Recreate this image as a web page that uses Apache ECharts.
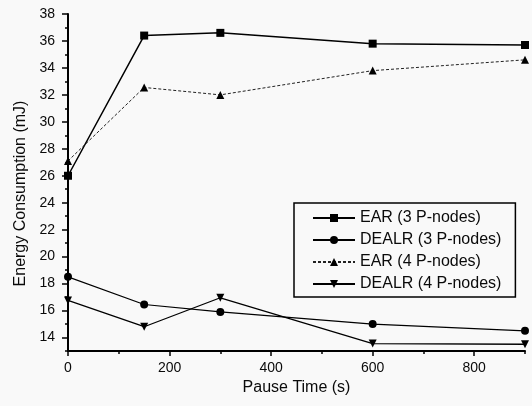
<!DOCTYPE html>
<html>
<head>
<meta charset="utf-8">
<script src="https://cdn.jsdelivr.net/npm/echarts@6/dist/echarts.min.js"></script>
<style>
html,body{margin:0;padding:0;background:#f9f9f9;}
#chart{width:532px;height:406px;}
</style>
</head>
<body>
<div id="chart"></div>
<script>
var pauseTimes = [0, 150, 300, 600, 900];
var ear3 = [26.0, 36.4, 36.6, 35.8, 35.7];
var dealr3 = [18.5, 16.45, 15.9, 15.0, 14.5];
var ear4 = [27.1, 32.55, 32.0, 33.8, 34.6];
var dealr4 = [16.75, 14.8, 16.95, 13.55, 13.5];
var seriesNames = ['EAR (3 P-nodes)', 'DEALR (3 P-nodes)', 'EAR (4 P-nodes)', 'DEALR (4 P-nodes)'];
var xMajorTicks = [0, 200, 400, 600, 800];
var yMajorTicks = [14, 16, 18, 20, 22, 24, 26, 28, 30, 32, 34, 36, 38];

function pairs(vals) { return pauseTimes.map(function (t, i) { return [t, vals[i]]; }); }

var font = '"Liberation Sans", Arial, sans-serif';
var chart = echarts.init(document.getElementById('chart'), null, {renderer: 'canvas'});
var ink = '#0a0a0a';

chart.setOption({
  backgroundColor: '#f9f9f9',
  animation: false,
  grid: {left: 68, right: 7, top: 14, bottom: 55, containLabel: false},
  legend: {
    orient: 'vertical',
    left: 294, top: 203,
    padding: [7, 14, 5, 18],
    borderColor: '#000', borderWidth: 1.5,
    itemWidth: 42, itemHeight: 10, itemGap: 6,
    textStyle: {fontFamily: font, fontSize: 16, color: ink, lineHeight: 16},
    data: seriesNames
  },
  xAxis: [{
    type: 'value', min: 0, max: 900, interval: 100,
    name: 'Pause Time (s)', nameLocation: 'middle', nameGap: 23,
    nameTextStyle: {fontFamily: font, fontSize: 16, color: ink},
    axisLine: {lineStyle: {color: '#000', width: 2}},
    axisTick: {customValues: xMajorTicks, length: 5, lineStyle: {color: '#000', width: 1.5}},
    axisLabel: {customValues: xMajorTicks, margin: 10, fontFamily: font, fontSize: 14, color: ink},
    splitLine: {show: false}
  }, {
    type: 'value', min: 0, max: 900, interval: 100, position: 'bottom',
    axisLine: {show: false},
    axisTick: {length: 3, lineStyle: {color: '#000', width: 1.5}},
    axisLabel: {show: false},
    splitLine: {show: false}
  }],
  yAxis: [{
    type: 'value', min: 13, max: 38, interval: 1,
    name: 'Energy Consumption (mJ)', nameLocation: 'middle', nameGap: 29,
    nameTextStyle: {fontFamily: font, fontSize: 16, color: ink, padding: [0, 22, 0, 0]},
    axisLine: {show: true, lineStyle: {color: '#000', width: 2}},
    axisTick: {show: true, customValues: yMajorTicks, length: 6, lineStyle: {color: '#000', width: 1.5}},
    axisLabel: {customValues: yMajorTicks, margin: 13, fontFamily: font, fontSize: 14, color: ink},
    splitLine: {show: false}
  }, {
    type: 'value', min: 13, max: 38, interval: 1, position: 'left',
    axisLine: {show: false},
    axisTick: {show: true, length: 3, lineStyle: {color: '#000', width: 1.5}},
    axisLabel: {show: false},
    splitLine: {show: false}
  }],
  series: [
    {name: seriesNames[0], type: 'line', data: pairs(ear3), symbol: 'rect', symbolSize: 8,
     itemStyle: {color: '#000'}, lineStyle: {color: '#000', width: 1.5}},
    {name: seriesNames[1], type: 'line', data: pairs(dealr3), symbol: 'circle', symbolSize: 8,
     itemStyle: {color: '#000'}, lineStyle: {color: '#000', width: 1.2}},
    {name: seriesNames[2], type: 'line', data: pairs(ear4), symbol: 'triangle', symbolSize: 8,
     itemStyle: {color: '#000'}, lineStyle: {color: '#222', width: 1, type: [3, 2]}},
    {name: seriesNames[3], type: 'line', data: pairs(dealr4), symbol: 'triangle', symbolRotate: 180, symbolSize: 8,
     itemStyle: {color: '#000'}, lineStyle: {color: '#000', width: 1.3}}
  ]
});
</script>
</body>
</html>
